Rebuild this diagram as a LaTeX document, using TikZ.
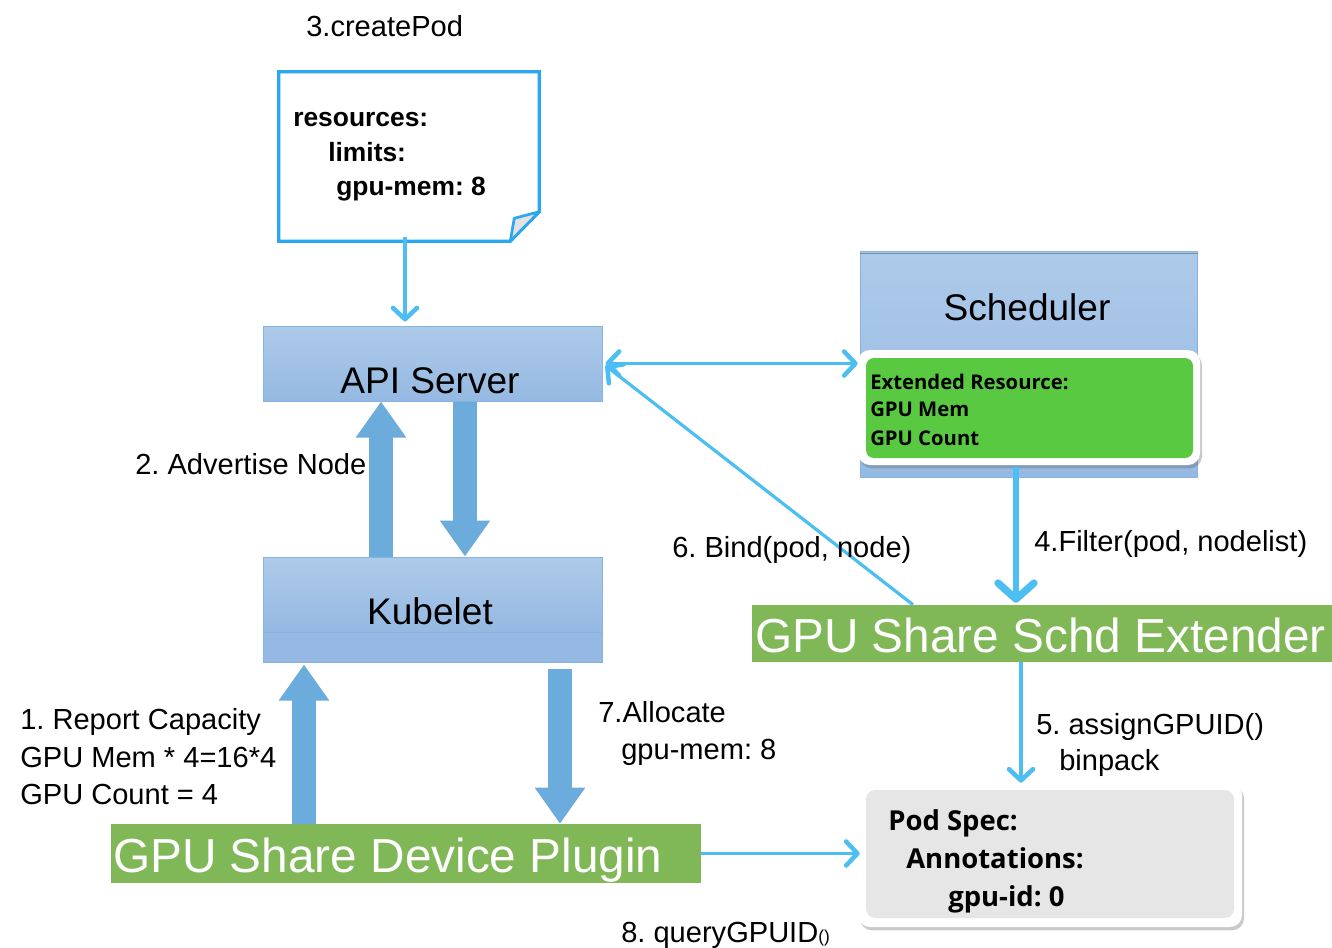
\documentclass[tikz,border=0pt]{standalone}
\usepackage{fontspec}
\setmainfont{Liberation Sans}
\newfontfamily\uifont{Open Sans}
\usetikzlibrary{arrows.meta,shadows,calc}
\frenchspacing

\definecolor{wire}{HTML}{4DBEF2}
\definecolor{blockarrow}{HTML}{6CACDC}
\definecolor{leaf}{HTML}{80B757}
\definecolor{lime}{HTML}{58C940}
\definecolor{boxtop}{HTML}{AECAE9}
\definecolor{boxbot}{HTML}{95B9E2}
\definecolor{boxedge}{HTML}{86B3E0}
\definecolor{notecol}{HTML}{2AA7EE}
\definecolor{specgray}{HTML}{E6E6E6}
\definecolor{foldgray}{HTML}{E2E2E2}

\tikzset{
  lbl/.style={anchor=base west, inner sep=0pt, font=\fontsize{21.8}{26}\selectfont},
  boxtitle/.style={anchor=base, inner sep=0pt, font=\fontsize{27.8}{32}\selectfont},
  bigtitle/.style={anchor=base west, inner sep=0pt, text=white, font=\fontsize{35.8}{40}\selectfont},
  notetext/.style={anchor=base west, inner sep=0pt, font=\bfseries\fontsize{19.8}{24}\selectfont},
  extext/.style={anchor=base west, inner sep=0pt, font=\uifont\bfseries\fontsize{15.2}{19}\selectfont},
  spectext/.style={anchor=base west, inner sep=0pt, font=\uifont\bfseries\fontsize{20.6}{25}\selectfont},
  bluebox/.style={draw=boxedge, line width=0.75pt, top color=boxtop, bottom color=boxbot, inner sep=0pt},
  greenbar/.style={fill=leaf, draw=none, inner sep=0pt},
  frame/.style={fill=white, draw=none, rounded corners=9pt, inner sep=0pt,
    drop shadow={shadow xshift=1.5pt, shadow yshift=-2.5pt, opacity=0.35, fill=black!60}},
  barb/.tip={Straight Barb[length=8.5pt, width=18pt, line width=3.4pt, round]},
  wireline/.style={draw=wire, line width=2.4pt, -barb},
  heavywire/.style={draw=wire, line width=4.8pt, -{Straight Barb[length=12pt, width=27pt, line width=5.5pt, round]}},
  blockarr/.style={draw=blockarrow, line width=18pt, -{Triangle[length=27pt, width=36pt]}},
}

\begin{document}
\begin{tikzpicture}[x=0.75pt, y=-0.75pt]
  \useasboundingbox (0,0) rectangle (1332,947);
  \fill[white] (0,0) rectangle (1332,947);

  % --- pod manifest note with folded corner ---
  \node[minimum width=195pt, minimum height=126.75pt, inner sep=0pt] (note) at (409,156.5) {};
  \draw[notecol, line width=2.4pt, line join=miter]
    (note.north west) -- (note.north east) -- ($(note.north east)+(0,140)$)
    -- ($(note.south east)+(-29,0)$) -- (note.south west) -- cycle;
  \draw[notecol, line width=2pt, fill=foldgray, line join=round]
    ($(note.north east)+(0,140)$) -- ($(note.south east)+(-25,-23)$) -- ($(note.south east)+(-29,0)$) -- cycle;
  \node[notetext] (n1) at (293,126) {resources:};
  \node[notetext] (n2) at (328,161) {limits:};
  \node[notetext] (n3) at (336,195) {gpu-mem: 8};
  \node[lbl] (create) at (306,36) {3.createPod};

  % --- API server ---
  \node[bluebox, minimum width=254.25pt, minimum height=56.25pt] (api) at (432.5,363.5) {};
  \node[boxtitle] (apilabel) at (430,393) {API Server};

  % --- kubelet ---
  \node[bluebox, minimum width=254.25pt, minimum height=56.25pt] (kub) at (432.5,594.5) {};
  \node[draw=boxedge, line width=0.75pt, fill=boxbot, minimum width=254.25pt, minimum height=22.5pt, inner sep=0pt] (kubbase) at (432.5,647) {};
  \node[boxtitle] (kublabel) at (430,624) {Kubelet};

  % --- scheduler with extended resource panel ---
  \node[bluebox, minimum width=252.75pt, minimum height=169.5pt] (sched) at (1028.5,364) {};
  \draw[boxedge!80!black, line width=1pt] ($(sched.north west)+(0,3)$) -- ($(sched.north east)+(0,3)$);
  \node[boxtitle] (schedlabel) at (1027,320) {Scheduler};
  \node[frame, minimum width=256.5pt, minimum height=86.25pt] (schedframe) at (1029,407.5) {};
  \node[fill=lime, rounded corners=6pt, minimum width=245.25pt, minimum height=75pt, inner sep=0pt] (schedres) at (1029.5,408) {};
  \node[extext] (r1) at (870,389) {Extended Resource:};
  \node[extext] (r2) at (870,416) {GPU Mem};
  \node[extext] (r3) at (870,445) {GPU Count};

  % --- extender ---
  \node[greenbar, minimum width=435pt, minimum height=42.75pt] (ext) at (1042,633.5) {};
  \node[bigtitle] (extlabel) at (755,652) {GPU Share Schd Extender};

  % --- device plugin ---
  \node[greenbar, minimum width=442.5pt, minimum height=44.25pt] (plugin) at (406,853.5) {};
  \node[bigtitle] (pluginlabel) at (113,872) {GPU Share Device Plugin};

  % --- pod spec ---
  \node[frame, minimum width=288pt, minimum height=108pt] (podframe) at (1050,855) {};
  \node[fill=specgray, rounded corners=7pt, minimum width=276pt, minimum height=96pt, inner sep=0pt] (podspec) at (1050,854) {};
  \node[spectext] (p1) at (888,830) {Pod Spec:};
  \node[spectext] (p2) at (906,868) {Annotations:};
  \node[spectext] (p3) at (948,906) {gpu-id: 0};

  % --- block arrows between kubelet, API server and plugin ---
  \draw[blockarr] (kub.north -| 381,0) -- (api.south -| 381,0);
  \draw[blockarr] (api.south -| 465,0) -- (kub.north -| 465,0);
  \draw[blockarr] (plugin.north -| 304,0) -- ($(kubbase.south -| 304,0)+(0,2)$);
  \draw[blockarr] ($(kubbase.south -| 560,0)+(0,6)$) -- (plugin.north -| 560,0);

  % --- thin connectors ---
  \draw[wireline] ($(note.south -| 405,0)+(0,-4)$) -- ($(api.north -| 405,0)+(0,-4)$);
  \draw[wireline, barb-barb] ($(api.east)+(3,0)$) -- (schedframe.west |- api.east);
  \draw[wireline] (ext.north -| 913,0) -- ($(api.east)+(3,2)$);
  \draw[heavywire] ($(schedframe.south -| 1016,0)+(0,2)$) -- ($(ext.north -| 1016,0)+(0,-2)$);
  \draw[wireline] (ext.south -| 1021,0) -- (podframe.north -| 1021,0);
  \draw[wireline] (plugin.east) -- ($(podframe.west |- plugin.east)+(2,0)$);

  % --- step labels ---
  \node[lbl] (l2) at (135,474) {2. Advertise Node};
  \node[lbl] (l6) at (672,557) {6. Bind(pod, node)};
  \node[lbl] (l4) at (1034,551) {4.Filter(pod, nodelist)};
  \node[lbl] (l5a) at (1036,734) {5. assignGPUID()};
  \node[lbl] (l5b) at (1059,770) {binpack};
  \node[lbl] (l1a) at (20,729) {1. Report Capacity};
  \node[lbl] (l1b) at (20,767) {GPU Mem * 4=16*4};
  \node[lbl] (l1c) at (20,804) {GPU Count = 4};
  \node[lbl] (l7a) at (598,722) {7.Allocate};
  \node[lbl] (l7b) at (621,759) {gpu-mem: 8};
  \node[lbl] (l8) at (621,942) {8. queryGPUID{\fontsize{13}{15}\selectfont()}};
\end{tikzpicture}
\end{document}
